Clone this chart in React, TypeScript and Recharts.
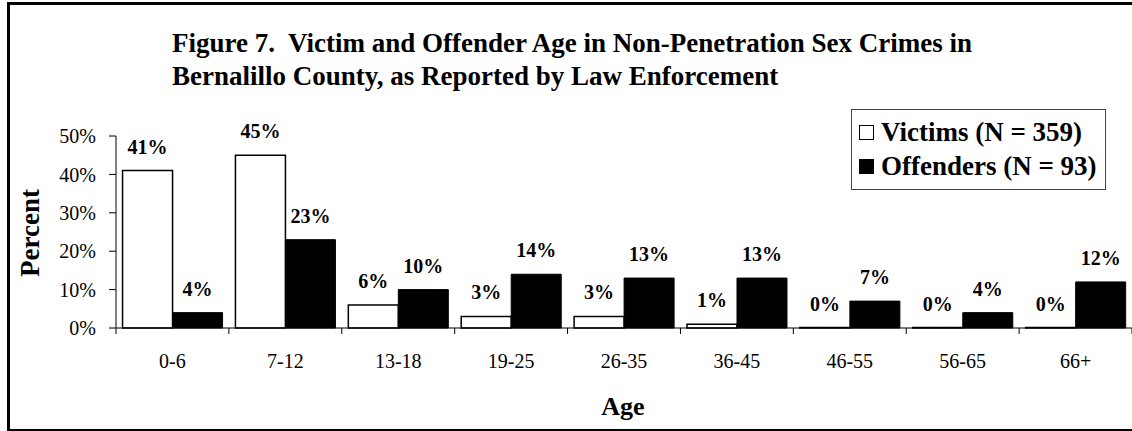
import React from 'react'
import { BarChart, Bar, XAxis, YAxis, LabelList } from 'recharts'

const AGE_GROUPS = ['0-6', '7-12', '13-18', '19-25', '26-35', '36-45', '46-55', '56-65', '66+']
const VICTIMS = [41, 45, 6, 3, 3, 1, 0, 0, 0]
const OFFENDERS = [4, 23, 10, 14, 13, 13, 7, 4, 12]
const Y_TICKS = [0, 10, 20, 30, 40, 50]
const VICTIMS_LABEL = 'Victims (N = 359)'
const OFFENDERS_LABEL = 'Offenders (N = 93)'

const data = AGE_GROUPS.map((age, i) => ({ age, victims: VICTIMS[i], offenders: OFFENDERS[i] }))

const SERIF = '"Liberation Serif", "Times New Roman", serif'

// category tick: label in the middle, tick marks on the band edges
function AgeTick(props: any) {
  const { x, y, payload, index } = props
  const half = payload.offset || 0
  const axisY = y - 28
  return (
    <g>
      <line x1={x - half} x2={x - half} y1={axisY} y2={axisY + 6} stroke="#000" />
      {index === AGE_GROUPS.length - 1 && (
        <line x1={x + half} x2={x + half} y1={axisY} y2={axisY + 6} stroke="#000" />
      )}
      <text x={x} y={y} dy={12} textAnchor="middle" fontSize={20} fontFamily={SERIF} fill="#000">
        {payload.value}
      </text>
    </g>
  )
}

function LegendBox() {
  const row = { display: 'flex', alignItems: 'center', height: 34 } as const
  const sw = { width: 15, height: 15, border: '1px solid #000', marginRight: 7, boxSizing: 'border-box' } as const
  return (
    <div
      style={{
        position: 'absolute',
        left: 851,
        top: 109,
        border: '1px solid #444',
        background: '#fff',
        padding: '5px 0 4px 7px',
        width: 255,
        height: 81,
        boxSizing: 'border-box',
        fontFamily: SERIF,
        fontWeight: 'bold',
        fontSize: 27,
        color: '#000',
        whiteSpace: 'nowrap',
      }}
    >
      <div style={row}>
        <span style={{ ...sw, background: '#fff' }} />
        <span>{VICTIMS_LABEL}</span>
      </div>
      <div style={row}>
        <span style={{ ...sw, background: '#000' }} />
        <span>{OFFENDERS_LABEL}</span>
      </div>
    </div>
  )
}

export default function App() {
  return (
    <div style={{ position: 'absolute', left: 0, top: 0, width: 1132, height: 431, overflow: 'hidden', background: '#fff' }}>
      <div
        style={{
          position: 'absolute',
          left: 7,
          top: 2,
          width: 1200,
          height: 424,
          border: '3px solid #000',
        }}
      />
      <div
        style={{
          position: 'absolute',
          left: 172,
          top: 27,
          fontFamily: SERIF,
          fontWeight: 'bold',
          fontSize: 27,
          lineHeight: '33px',
          color: '#000',
          whiteSpace: 'nowrap',
        }}
      >
        <div>Figure 7.&nbsp; Victim and Offender Age in Non-Penetration Sex Crimes in</div>
        <div>Bernalillo County, as Reported by Law Enforcement</div>
      </div>
      <div
        style={{
          position: 'absolute',
          left: 30,
          top: 233,
          transform: 'translate(-50%, -50%) rotate(-90deg)',
          fontFamily: SERIF,
          fontWeight: 'bold',
          fontSize: 27,
          color: '#000',
          whiteSpace: 'nowrap',
        }}
      >
        Percent
      </div>
      <div
        style={{
          position: 'absolute',
          left: 623,
          top: 407,
          transform: 'translate(-50%, -50%)',
          fontFamily: SERIF,
          fontWeight: 'bold',
          fontSize: 26,
          color: '#000',
        }}
      >
        Age
      </div>
      <BarChart
        width={1132}
        height={431}
        data={data}
        margin={{ top: 136, right: 0, bottom: 43, left: 0 }}
        barCategoryGap="5.8%"
        barGap={0}
        style={{ position: 'absolute', left: 0, top: 0 }}
      >
        <XAxis
          dataKey="age"
          height={60}
          axisLine={{ stroke: '#000' }}
          tickLine={false}
          tickSize={6}
          tickMargin={22}
          tick={<AgeTick />}
          interval={0}
        />
        <YAxis
          width={116}
          domain={[0, 50]}
          ticks={Y_TICKS}
          interval={0}
          tickFormatter={(v: number) => `${v}%`}
          axisLine={{ stroke: '#000' }}
          tickLine={{ stroke: '#000' }}
          tickSize={7}
          tickMargin={13}
          tick={{ fill: '#000', fontSize: 20, fontFamily: SERIF }}
        />
        <Bar
          dataKey="victims"
          name={VICTIMS_LABEL}
          fill="#fff"
          stroke="#000"
          strokeWidth={1.5}
          minPointSize={0.5}
          isAnimationActive={false}
        >
          <LabelList
            dataKey="victims"
            position="top"
            offset={17}
            formatter={(v: any) => `${v}%`}
            style={{ fill: '#000', fontSize: 20, fontWeight: 'bold', fontFamily: SERIF }}
          />
        </Bar>
        <Bar dataKey="offenders" name={OFFENDERS_LABEL} fill="#000" stroke="#000" isAnimationActive={false}>
          <LabelList
            dataKey="offenders"
            position="top"
            offset={17}
            formatter={(v: any) => `${v}%`}
            style={{ fill: '#000', fontSize: 20, fontWeight: 'bold', fontFamily: SERIF }}
          />
        </Bar>
      </BarChart>
      <LegendBox />
    </div>
  )
}
